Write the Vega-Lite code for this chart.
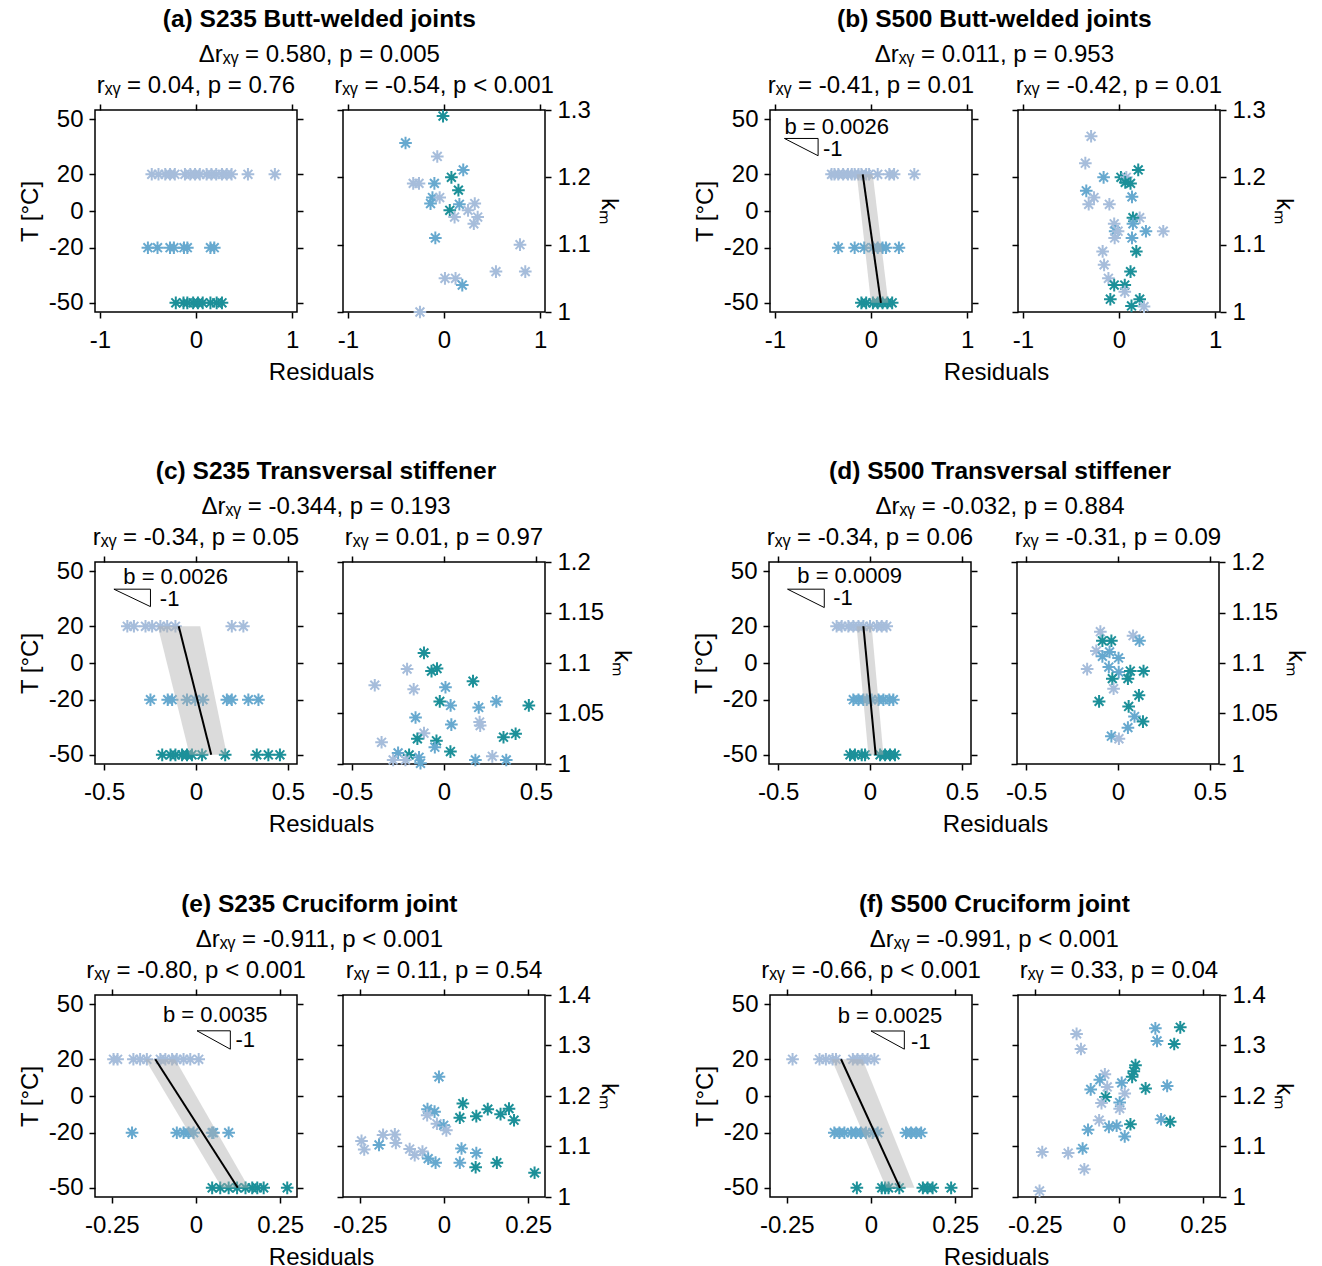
{
"$schema": "https://vega.github.io/schema/vega-lite/v6.json",
"background": "white",
"padding": {"left": 17, "top": 6, "right": 0, "bottom": 0},
"datasets": {
"aL": [{"r":-0.46,"T":20},{"r":-0.39,"T":20},{"r":-0.32,"T":20},{"r":-0.27,"T":20},{"r":-0.22,"T":20},{"r":-0.115,"T":20},{"r":-0.06,"T":20},{"r":-0.01,"T":20},{"r":0.04,"T":20},{"r":0.11,"T":20},{"r":0.16,"T":20},{"r":0.21,"T":20},{"r":0.27,"T":20},{"r":0.32,"T":20},{"r":0.37,"T":20},{"r":0.54,"T":20},{"r":0.82,"T":20},
{"r":-0.5,"T":-20},{"r":-0.4,"T":-20},{"r":-0.27,"T":-20},{"r":-0.23,"T":-20},{"r":-0.125,"T":-20},{"r":-0.09,"T":-20},{"r":0.15,"T":-20},{"r":0.19,"T":-20},
{"r":-0.21,"T":-50},{"r":-0.13,"T":-50},{"r":-0.09,"T":-50},{"r":-0.03,"T":-50},{"r":0.02,"T":-50},{"r":0.07,"T":-50},{"r":0.15,"T":-50},{"r":0.215,"T":-50},{"r":0.27,"T":-50}],
"aR": [{"r":-0.01,"km":1.291,"T":-50},{"r":-0.4,"km":1.251,"T":-20},{"r":-0.07,"km":1.231,"T":20},{"r":0.2,"km":1.211,"T":-20},{"r":0.077,"km":1.2,"T":-50},{"r":-0.32,"km":1.191,"T":20},{"r":-0.26,"km":1.191,"T":20},{"r":-0.1,"km":1.191,"T":-20},{"r":0.15,"km":1.181,"T":-50},{"r":-0.12,"km":1.17,"T":-20},{"r":-0.045,"km":1.17,"T":20},{"r":-0.14,"km":1.161,"T":-20},{"r":0.16,"km":1.16,"T":-20},{"r":0.32,"km":1.161,"T":20},{"r":0.25,"km":1.151,"T":20},{"r":0.06,"km":1.151,"T":-50},{"r":0.35,"km":1.141,"T":20},{"r":0.11,"km":1.141,"T":20},{"r":0.31,"km":1.131,"T":20},{"r":-0.09,"km":1.11,"T":-20},{"r":0.79,"km":1.1,"T":20},{"r":0.54,"km":1.06,"T":20},{"r":0.845,"km":1.06,"T":20},{"r":0.01,"km":1.05,"T":20},{"r":0.12,"km":1.05,"T":20},{"r":0.19,"km":1.04,"T":-20},{"r":-0.25,"km":1.0,"T":20}],
"bL": [{"r":-0.41,"T":20},{"r":-0.38,"T":20},{"r":-0.34,"T":20},{"r":-0.29,"T":20},{"r":-0.24,"T":20},{"r":-0.2,"T":20},{"r":-0.17,"T":20},{"r":-0.13,"T":20},{"r":-0.1,"T":20},{"r":-0.05,"T":20},{"r":-0.02,"T":20},{"r":0.07,"T":20},{"r":0.19,"T":20},{"r":0.24,"T":20},{"r":0.45,"T":20},
{"r":-0.34,"T":-20},{"r":-0.17,"T":-20},{"r":-0.07,"T":-20},{"r":0.02,"T":-20},{"r":0.07,"T":-20},{"r":0.12,"T":-20},{"r":0.155,"T":-20},{"r":0.29,"T":-20},
{"r":-0.1,"T":-50},{"r":-0.05,"T":-50},{"r":0.02,"T":-50},{"r":0.07,"T":-50},{"r":0.12,"T":-50},{"r":0.17,"T":-50},{"r":0.22,"T":-50}],
"fitB": [{"T":20,"r":-0.086,"lo":-0.148,"hi":0.018},{"T":-50,"r":0.103,"lo":0.0,"hi":0.18}],
"triB": [{"i":1,"r":-0.9,"T":39.5},{"i":2,"r":-0.55,"T":39.5},{"i":3,"r":-0.55,"T":30.1},{"i":4,"r":-0.9,"T":39.5}],
"annB": [{"label":"b = 0.0026","r":-0.9,"T":42.2},{"label":"-1","r":-0.5,"T":30.1}],
"bR": [{"r":-0.29,"km":1.261,"T":20},{"r":-0.35,"km":1.221,"T":20},{"r":0.2,"km":1.211,"T":-50},{"r":-0.16,"km":1.2,"T":-20},{"r":0.02,"km":1.2,"T":-50},{"r":0.076,"km":1.2,"T":20},{"r":0.065,"km":1.1925,"T":-50},{"r":0.12,"km":1.191,"T":-50},{"r":-0.34,"km":1.18,"T":-20},{"r":-0.26,"km":1.17,"T":20},{"r":0.135,"km":1.171,"T":-20},{"r":-0.315,"km":1.16,"T":20},{"r":-0.1,"km":1.16,"T":20},{"r":0.215,"km":1.14,"T":20},{"r":0.145,"km":1.14,"T":-50},{"r":-0.05,"km":1.131,"T":20},{"r":0.145,"km":1.131,"T":-20},{"r":-0.04,"km":1.12,"T":-20},{"r":-0.01,"km":1.12,"T":20},{"r":0.28,"km":1.12,"T":-20},{"r":0.46,"km":1.12,"T":20},{"r":-0.045,"km":1.11,"T":20},{"r":0.135,"km":1.11,"T":-20},{"r":0.18,"km":1.09,"T":-50},{"r":-0.17,"km":1.09,"T":20},{"r":-0.155,"km":1.07,"T":20},{"r":0.12,"km":1.06,"T":-50},{"r":-0.11,"km":1.05,"T":20},{"r":-0.05,"km":1.04,"T":-50},{"r":0.06,"km":1.04,"T":-50},{"r":0.06,"km":1.03,"T":20},{"r":-0.09,"km":1.019,"T":-50},{"r":0.215,"km":1.019,"T":-50},{"r":0.13,"km":1.009,"T":-50},{"r":0.26,"km":1.008,"T":20}],
"cL": [{"r":-0.374,"T":20},{"r":-0.338,"T":20},{"r":-0.275,"T":20},{"r":-0.239,"T":20},{"r":-0.194,"T":20},{"r":-0.157,"T":20},{"r":-0.112,"T":20},{"r":0.195,"T":20},{"r":0.258,"T":20},
{"r":-0.248,"T":-20},{"r":-0.154,"T":-20},{"r":-0.13,"T":-20},{"r":-0.049,"T":-20},{"r":-0.004,"T":-20},{"r":0.038,"T":-20},{"r":0.168,"T":-20},{"r":0.195,"T":-20},{"r":0.285,"T":-20},{"r":0.34,"T":-20},
{"r":-0.184,"T":-50},{"r":-0.139,"T":-50},{"r":-0.112,"T":-50},{"r":-0.076,"T":-50},{"r":-0.049,"T":-50},{"r":-0.022,"T":-50},{"r":0.033,"T":-50},{"r":0.159,"T":-50},{"r":0.331,"T":-50},{"r":0.394,"T":-50},{"r":0.457,"T":-50}],
"fitC": [{"T":20,"r":-0.094,"lo":-0.208,"hi":0.023},{"T":-50,"r":0.083,"lo":-0.035,"hi":0.168}],
"triC": [{"i":1,"r":-0.447,"T":40.2},{"i":2,"r":-0.248,"T":40.2},{"i":3,"r":-0.248,"T":30.7},{"i":4,"r":-0.447,"T":40.2}],
"annC": [{"label":"b = 0.0026","r":-0.396,"T":42.9},{"label":"-1","r":-0.197,"T":31}],
"cR": [{"r":-0.109,"km":1.11,"T":-50},{"r":-0.201,"km":1.094,"T":20},{"r":-0.068,"km":1.092,"T":-50},{"r":-0.038,"km":1.0945,"T":-50},{"r":-0.377,"km":1.078,"T":20},{"r":0.158,"km":1.082,"T":-50},{"r":-0.165,"km":1.074,"T":20},{"r":0.008,"km":1.076,"T":-20},{"r":-0.023,"km":1.062,"T":-50},{"r":0.036,"km":1.058,"T":-20},{"r":0.189,"km":1.056,"T":-20},{"r":0.285,"km":1.062,"T":-20},{"r":0.462,"km":1.058,"T":-50},{"r":-0.155,"km":1.046,"T":-20},{"r":0.194,"km":1.0415,"T":20},{"r":0.197,"km":1.038,"T":20},{"r":0.04,"km":1.039,"T":-20},{"r":-0.109,"km":1.0305,"T":20},{"r":-0.145,"km":1.025,"T":-50},{"r":-0.041,"km":1.023,"T":-50},{"r":0.324,"km":1.0265,"T":-50},{"r":0.39,"km":1.03,"T":-50},{"r":-0.34,"km":1.0215,"T":20},{"r":-0.05,"km":1.0166,"T":-20},{"r":0.035,"km":1.0123,"T":-50},{"r":-0.25,"km":1.011,"T":-20},{"r":-0.19,"km":1.009,"T":-50},{"r":-0.277,"km":1.004,"T":20},{"r":-0.21,"km":1.004,"T":20},{"r":-0.136,"km":1.0066,"T":-20},{"r":-0.128,"km":1.0007,"T":-20},{"r":0.171,"km":1.004,"T":-20},{"r":0.263,"km":1.0076,"T":20},{"r":0.339,"km":1.004,"T":-20}],
"dL": [{"r":-0.182,"T":20},{"r":-0.154,"T":20},{"r":-0.118,"T":20},{"r":-0.091,"T":20},{"r":-0.063,"T":20},{"r":-0.036,"T":20},{"r":0.0,"T":20},{"r":0.037,"T":20},{"r":0.064,"T":20},{"r":0.091,"T":20},
{"r":-0.091,"T":-20},{"r":-0.063,"T":-20},{"r":-0.036,"T":-20},{"r":-0.018,"T":-20},{"r":0.009,"T":-20},{"r":0.046,"T":-20},{"r":0.073,"T":-20},{"r":0.105,"T":-20},{"r":0.127,"T":-20},
{"r":-0.109,"T":-50},{"r":-0.082,"T":-50},{"r":-0.045,"T":-50},{"r":-0.027,"T":-50},{"r":0.055,"T":-50},{"r":0.082,"T":-50},{"r":0.109,"T":-50},{"r":0.136,"T":-50}],
"fitD": [{"T":20,"r":-0.036,"lo":-0.073,"hi":0.009},{"T":-50,"r":0.031,"lo":-0.009,"hi":0.073}],
"triD": [{"i":1,"r":-0.449,"T":40.2},{"i":2,"r":-0.249,"T":40.2},{"i":3,"r":-0.249,"T":30.2},{"i":4,"r":-0.449,"T":40.2}],
"annD": [{"label":"b = 0.0009","r":-0.396,"T":43.3},{"label":"-1","r":-0.2,"T":31.5}],
"dR": [{"r":-0.096,"km":1.131,"T":20},{"r":-0.085,"km":1.122,"T":-50},{"r":-0.036,"km":1.122,"T":-50},{"r":0.082,"km":1.127,"T":20},{"r":0.117,"km":1.122,"T":-20},{"r":-0.118,"km":1.112,"T":20},{"r":-0.085,"km":1.1066,"T":-20},{"r":-0.046,"km":1.111,"T":-20},{"r":0.003,"km":1.105,"T":-20},{"r":-0.168,"km":1.094,"T":20},{"r":-0.05,"km":1.096,"T":-20},{"r":0.004,"km":1.091,"T":-20},{"r":0.067,"km":1.092,"T":-50},{"r":0.139,"km":1.092,"T":-50},{"r":-0.031,"km":1.0845,"T":-50},{"r":0.054,"km":1.0845,"T":-50},{"r":-0.024,"km":1.0745,"T":20},{"r":0.114,"km":1.068,"T":-50},{"r":-0.103,"km":1.062,"T":-50},{"r":0.058,"km":1.057,"T":-50},{"r":0.09,"km":1.047,"T":-20},{"r":0.136,"km":1.042,"T":-50},{"r":0.054,"km":1.036,"T":-20},{"r":-0.036,"km":1.0275,"T":-20},{"r":0.005,"km":1.025,"T":20}],
"eL": [{"r":-0.245,"T":20},{"r":-0.233,"T":20},{"r":-0.186,"T":20},{"r":-0.166,"T":20},{"r":-0.146,"T":20},{"r":-0.106,"T":20},{"r":-0.091,"T":20},{"r":-0.071,"T":20},{"r":-0.057,"T":20},{"r":-0.037,"T":20},{"r":-0.017,"T":20},{"r":0.008,"T":20},
{"r":-0.19,"T":-20},{"r":-0.057,"T":-20},{"r":-0.037,"T":-20},{"r":-0.022,"T":-20},{"r":-0.007,"T":-20},{"r":0.048,"T":-20},{"r":0.052,"T":-20},{"r":0.097,"T":-20},
{"r":0.048,"T":-50},{"r":0.072,"T":-50},{"r":0.097,"T":-50},{"r":0.122,"T":-50},{"r":0.147,"T":-50},{"r":0.167,"T":-50},{"r":0.182,"T":-50},{"r":0.201,"T":-50},{"r":0.271,"T":-50}],
"fitE": [{"T":20,"r":-0.121,"lo":-0.151,"hi":-0.062},{"T":-50,"r":0.124,"lo":0.077,"hi":0.157}],
"triE": [{"i":1,"r":0.003,"T":35.5},{"i":2,"r":0.102,"T":35.5},{"i":3,"r":0.102,"T":25.5},{"i":4,"r":0.003,"T":35.5}],
"annE": [{"label":"b = 0.0035","r":-0.098,"T":40.4},{"label":"-1","r":0.117,"T":26.7}],
"eR": [{"r":-0.015,"km":1.238,"T":-20},{"r":0.056,"km":1.185,"T":-50},{"r":-0.049,"km":1.174,"T":-20},{"r":-0.028,"km":1.169,"T":-20},{"r":-0.05,"km":1.162,"T":20},{"r":0.13,"km":1.174,"T":-50},{"r":0.193,"km":1.175,"T":-50},{"r":0.168,"km":1.164,"T":-50},{"r":0.047,"km":1.157,"T":-50},{"r":0.096,"km":1.16,"T":-50},{"r":0.208,"km":1.152,"T":-50},{"r":-0.021,"km":1.145,"T":20},{"r":-0.001,"km":1.142,"T":-20},{"r":0.007,"km":1.132,"T":20},{"r":-0.245,"km":1.111,"T":20},{"r":-0.237,"km":1.094,"T":20},{"r":-0.181,"km":1.123,"T":20},{"r":-0.146,"km":1.124,"T":20},{"r":-0.143,"km":1.107,"T":20},{"r":-0.193,"km":1.103,"T":-20},{"r":-0.102,"km":1.095,"T":20},{"r":-0.087,"km":1.083,"T":20},{"r":-0.064,"km":1.09,"T":20},{"r":-0.047,"km":1.076,"T":-20},{"r":-0.025,"km":1.068,"T":-20},{"r":0.052,"km":1.096,"T":-20},{"r":0.047,"km":1.068,"T":-20},{"r":0.096,"km":1.087,"T":-20},{"r":0.094,"km":1.059,"T":-50},{"r":0.157,"km":1.068,"T":-50},{"r":0.269,"km":1.048,"T":-50}],
"fL": [{"r":-0.233,"T":20},{"r":-0.153,"T":20},{"r":-0.134,"T":20},{"r":-0.114,"T":20},{"r":-0.104,"T":20},{"r":-0.054,"T":20},{"r":-0.04,"T":20},{"r":-0.025,"T":20},{"r":-0.01,"T":20},{"r":0.01,"T":20},
{"r":-0.109,"T":-20},{"r":-0.094,"T":-20},{"r":-0.079,"T":-20},{"r":-0.059,"T":-20},{"r":-0.045,"T":-20},{"r":-0.03,"T":-20},{"r":-0.015,"T":-20},{"r":0.005,"T":-20},{"r":0.02,"T":-20},{"r":0.104,"T":-20},{"r":0.119,"T":-20},{"r":0.134,"T":-20},{"r":0.149,"T":-20},
{"r":-0.042,"T":-50},{"r":0.032,"T":-50},{"r":0.042,"T":-50},{"r":0.052,"T":-50},{"r":0.084,"T":-50},{"r":0.154,"T":-50},{"r":0.168,"T":-50},{"r":0.183,"T":-50},{"r":0.238,"T":-50}],
"fitF": [{"T":20,"r":-0.089,"lo":-0.117,"hi":-0.025},{"T":-50,"r":0.086,"lo":0.045,"hi":0.129}],
"triF": [{"i":1,"r":0.0,"T":35.4},{"i":2,"r":0.099,"T":35.4},{"i":3,"r":0.099,"T":25.5},{"i":4,"r":0.0,"T":35.4}],
"annF": [{"label":"b = 0.0025","r":-0.099,"T":40},{"label":"-1","r":0.119,"T":25.5}],
"fR": [{"r":0.182,"km":1.336,"T":-50},{"r":0.108,"km":1.334,"T":-20},{"r":-0.126,"km":1.323,"T":20},{"r":0.113,"km":1.309,"T":-20},{"r":0.164,"km":1.303,"T":-50},{"r":-0.113,"km":1.293,"T":20},{"r":0.049,"km":1.261,"T":-50},{"r":0.044,"km":1.249,"T":-50},{"r":0.039,"km":1.238,"T":-50},{"r":-0.042,"km":1.243,"T":20},{"r":-0.057,"km":1.232,"T":-20},{"r":0.008,"km":1.226,"T":-20},{"r":-0.035,"km":1.218,"T":20},{"r":-0.084,"km":1.213,"T":-20},{"r":0.079,"km":1.215,"T":-50},{"r":0.143,"km":1.22,"T":-20},{"r":0.017,"km":1.205,"T":20},{"r":-0.04,"km":1.198,"T":-50},{"r":-0.052,"km":1.186,"T":20},{"r":0.002,"km":1.187,"T":-20},{"r":0.002,"km":1.175,"T":20},{"r":-0.059,"km":1.152,"T":20},{"r":0.125,"km":1.154,"T":-20},{"r":0.152,"km":1.149,"T":-50},{"r":0.034,"km":1.144,"T":-50},{"r":-0.03,"km":1.139,"T":-20},{"r":-0.007,"km":1.141,"T":-20},{"r":-0.092,"km":1.133,"T":-20},{"r":0.017,"km":1.12,"T":-20},{"r":-0.108,"km":1.096,"T":-20},{"r":-0.228,"km":1.089,"T":20},{"r":-0.151,"km":1.087,"T":20},{"r":-0.103,"km":1.055,"T":20},{"r":-0.236,"km":1.012,"T":20}]
},
"config": {
"font": "Liberation Sans",
"view": {"stroke": "black", "strokeWidth": 1.5},
"axis": {"domain": false, "grid": false, "ticks": true, "tickColor": "black", "tickWidth": 1.5, "tickSize": 6, "labelFont": "Liberation Sans", "labelFontSize": 24, "labelColor": "black", "labelFlush": false, "labelOverlap": false, "titleFont": "Liberation Sans", "titleFontSize": 24, "titleFontWeight": "normal", "titleColor": "black"},
"axisX": {"labelPadding": 10, "titlePadding": 8},
"axisY": {"labelPadding": 6, "titlePadding": 6},
"title": {"font": "Liberation Sans", "fontSize": 24, "fontWeight": "normal", "color": "black", "subtitleFont": "Liberation Sans", "subtitleFontSize": 24, "subtitleColor": "black", "offset": 5},
"text": {"font": "Liberation Sans", "color": "black"},
"point": {"shape": "M-1,0L1,0M0,-1L0,1M-0.7,-0.7L0.7,0.7M-0.7,0.7L0.7,-0.7", "filled": false, "size": 160, "strokeWidth": 2, "opacity": 1}
},
"spacing": 73,
"vconcat": [
{"spacing": 70, "hconcat": [
 {"title": {"text": "(a) S235 Butt-welded joints", "subtitle": "Δrₓᵧ = 0.580, p = 0.005", "anchor": "middle", "fontWeight": "bold", "fontSize": 24.5, "subtitlePadding": 11, "offset": 5},
  "bounds": "flush", "spacing": 46,
  "hconcat": [
  {"title": {"text": "rₓᵧ = 0.04, p = 0.76", "frame": "group"}, "width": 202, "height": 202,
   "layer": [
    {"data": {"name": "aL"}, "mark": {"type": "point"}, "encoding": {
      "x": {"field": "r", "type": "quantitative", "scale": {"domain": [-1.05, 1.05], "nice": false, "zero": false}, "axis": {"orient": "bottom", "values": [-1, 0, 1], "title": "Residuals", "titleX": 226, "labelExpr": "datum.value < 0 ? '-' + format(-datum.value, '~g') : format(datum.value, '~g')"}},
      "y": {"field": "T", "type": "quantitative", "scale": {"domain": [-55, 55], "nice": false, "zero": false}, "axis": {"orient": "left", "values": [-50, -20, 0, 20, 50], "title": "T [°C]", "labelExpr": "datum.value < 0 ? '-' + format(-datum.value, '~g') : format(datum.value, '~g')"}},
      "color": {"field": "T", "type": "nominal", "scale": {"domain": [20, -20, -50], "range": ["#a6bddb", "#67a9cf", "#1c9099"]}, "legend": null}}},
    {"data": {"name": "aL"}, "mark": {"type": "point", "opacity": 0}, "encoding": {
      "x": {"field": "r", "type": "quantitative", "axis": {"orient": "top", "values": [-1, 0, 1], "labels": false, "title": null}},
      "y": {"field": "T", "type": "quantitative", "axis": {"orient": "right", "values": [-50, -20, 0, 20, 50], "labels": false, "title": null}}}}
   ],
   "resolve": {"axis": {"x": "independent", "y": "independent"}}},
  {"title": {"text": "rₓᵧ = -0.54, p < 0.001", "offset": 0, "frame": "group"}, "width": 202, "height": 202,
   "layer": [
    {"data": {"name": "aR"}, "mark": {"type": "point"}, "encoding": {
      "x": {"field": "r", "type": "quantitative", "scale": {"domain": [-1.05, 1.05], "nice": false, "zero": false}, "axis": {"orient": "bottom", "values": [-1, 0, 1], "title": null, "labelExpr": "datum.value < 0 ? '-' + format(-datum.value, '~g') : format(datum.value, '~g')"}},
      "y": {"field": "km", "type": "quantitative", "scale": {"domain": [1, 1.3], "nice": false, "zero": false}, "axis": {"orient": "right", "values": [1, 1.1, 1.2, 1.3], "title": "kₘ", "labelExpr": "format(datum.value, '~g')"}},
      "color": {"field": "T", "type": "nominal", "scale": {"domain": [20, -20, -50], "range": ["#a6bddb", "#67a9cf", "#1c9099"]}, "legend": null}}},
    {"data": {"name": "aR"}, "mark": {"type": "point", "opacity": 0}, "encoding": {
      "x": {"field": "r", "type": "quantitative", "axis": {"orient": "top", "values": [-1, 0, 1], "labels": false, "title": null}},
      "y": {"field": "km", "type": "quantitative", "axis": {"orient": "left", "values": [1, 1.1, 1.2, 1.3], "labels": false, "title": null}}}}
   ],
   "resolve": {"axis": {"x": "independent", "y": "independent"}}}
 ]},
 {"title": {"text": "(b) S500 Butt-welded joints", "subtitle": "Δrₓᵧ = 0.011, p = 0.953", "anchor": "middle", "fontWeight": "bold", "fontSize": 24.5, "subtitlePadding": 11, "offset": 5},
  "bounds": "flush", "spacing": 46,
  "hconcat": [
  {"title": {"text": "rₓᵧ = -0.41, p = 0.01", "frame": "group"}, "width": 202, "height": 202,
   "layer": [
    {"data": {"name": "bL"}, "mark": {"type": "point"}, "encoding": {
      "x": {"field": "r", "type": "quantitative", "scale": {"domain": [-1.05, 1.05], "nice": false, "zero": false}, "axis": {"orient": "bottom", "values": [-1, 0, 1], "title": "Residuals", "titleX": 226, "labelExpr": "datum.value < 0 ? '-' + format(-datum.value, '~g') : format(datum.value, '~g')"}},
      "y": {"field": "T", "type": "quantitative", "scale": {"domain": [-55, 55], "nice": false, "zero": false}, "axis": {"orient": "left", "values": [-50, -20, 0, 20, 50], "title": "T [°C]", "labelExpr": "datum.value < 0 ? '-' + format(-datum.value, '~g') : format(datum.value, '~g')"}},
      "color": {"field": "T", "type": "nominal", "scale": {"domain": [20, -20, -50], "range": ["#a6bddb", "#67a9cf", "#1c9099"]}, "legend": null}}},
    {"data": {"name": "fitB"}, "mark": {"type": "area", "orient": "horizontal", "color": "#b0b0b0", "opacity": 0.45}, "encoding": {
      "y": {"field": "T", "type": "quantitative", "axis": {"orient": "right", "values": [-50, -20, 0, 20, 50], "labels": false, "title": null}},
      "x": {"field": "lo", "type": "quantitative", "axis": {"orient": "top", "values": [-1, 0, 1], "labels": false, "title": null}},
      "x2": {"field": "hi"}}},
    {"data": {"name": "fitB"}, "mark": {"type": "line", "color": "black", "strokeWidth": 2}, "encoding": {"x": {"field": "r", "type": "quantitative", "axis": null}, "y": {"field": "T", "type": "quantitative", "axis": null}}},
    {"data": {"name": "triB"}, "mark": {"type": "line", "color": "black", "strokeWidth": 1}, "encoding": {"x": {"field": "r", "type": "quantitative", "axis": null}, "y": {"field": "T", "type": "quantitative", "axis": null}, "order": {"field": "i", "type": "quantitative"}}},
    {"data": {"name": "annB"}, "mark": {"type": "text", "align": "left", "baseline": "alphabetic", "fontSize": 22}, "encoding": {"x": {"field": "r", "type": "quantitative", "axis": null}, "y": {"field": "T", "type": "quantitative", "axis": null}, "text": {"field": "label", "type": "nominal"}}}
   ],
   "resolve": {"axis": {"x": "independent", "y": "independent"}}},
  {"title": {"text": "rₓᵧ = -0.42, p = 0.01", "offset": 0, "frame": "group"}, "width": 202, "height": 202,
   "layer": [
    {"data": {"name": "bR"}, "mark": {"type": "point"}, "encoding": {
      "x": {"field": "r", "type": "quantitative", "scale": {"domain": [-1.05, 1.05], "nice": false, "zero": false}, "axis": {"orient": "bottom", "values": [-1, 0, 1], "title": null, "labelExpr": "datum.value < 0 ? '-' + format(-datum.value, '~g') : format(datum.value, '~g')"}},
      "y": {"field": "km", "type": "quantitative", "scale": {"domain": [1, 1.3], "nice": false, "zero": false}, "axis": {"orient": "right", "values": [1, 1.1, 1.2, 1.3], "title": "kₘ", "labelExpr": "format(datum.value, '~g')"}},
      "color": {"field": "T", "type": "nominal", "scale": {"domain": [20, -20, -50], "range": ["#a6bddb", "#67a9cf", "#1c9099"]}, "legend": null}}},
    {"data": {"name": "bR"}, "mark": {"type": "point", "opacity": 0}, "encoding": {
      "x": {"field": "r", "type": "quantitative", "axis": {"orient": "top", "values": [-1, 0, 1], "labels": false, "title": null}},
      "y": {"field": "km", "type": "quantitative", "axis": {"orient": "left", "values": [1, 1.1, 1.2, 1.3], "labels": false, "title": null}}}}
   ],
   "resolve": {"axis": {"x": "independent", "y": "independent"}}}
 ]}
]},
{"spacing": 54, "vconcat": [
{"spacing": 56, "hconcat": [
 {"title": {"text": "(c) S235 Transversal stiffener", "subtitle": "Δrₓᵧ = -0.344, p = 0.193", "anchor": "middle", "fontWeight": "bold", "fontSize": 24.5, "subtitlePadding": 11, "offset": 5},
  "bounds": "flush", "spacing": 46,
  "hconcat": [
  {"title": {"text": "rₓᵧ = -0.34, p = 0.05", "frame": "group"}, "width": 202, "height": 202,
   "layer": [
    {"data": {"name": "cL"}, "mark": {"type": "point"}, "encoding": {
      "x": {"field": "r", "type": "quantitative", "scale": {"domain": [-0.55, 0.55], "nice": false, "zero": false}, "axis": {"orient": "bottom", "values": [-0.5, 0, 0.5], "title": "Residuals", "titleX": 226, "labelExpr": "datum.value < 0 ? '-' + format(-datum.value, '~g') : format(datum.value, '~g')"}},
      "y": {"field": "T", "type": "quantitative", "scale": {"domain": [-55, 55], "nice": false, "zero": false}, "axis": {"orient": "left", "values": [-50, -20, 0, 20, 50], "title": "T [°C]", "labelExpr": "datum.value < 0 ? '-' + format(-datum.value, '~g') : format(datum.value, '~g')"}},
      "color": {"field": "T", "type": "nominal", "scale": {"domain": [20, -20, -50], "range": ["#a6bddb", "#67a9cf", "#1c9099"]}, "legend": null}}},
    {"data": {"name": "fitC"}, "mark": {"type": "area", "orient": "horizontal", "color": "#b0b0b0", "opacity": 0.45}, "encoding": {
      "y": {"field": "T", "type": "quantitative", "axis": {"orient": "right", "values": [-50, -20, 0, 20, 50], "labels": false, "title": null}},
      "x": {"field": "lo", "type": "quantitative", "axis": {"orient": "top", "values": [-0.5, 0, 0.5], "labels": false, "title": null}},
      "x2": {"field": "hi"}}},
    {"data": {"name": "fitC"}, "mark": {"type": "line", "color": "black", "strokeWidth": 2}, "encoding": {"x": {"field": "r", "type": "quantitative", "axis": null}, "y": {"field": "T", "type": "quantitative", "axis": null}}},
    {"data": {"name": "triC"}, "mark": {"type": "line", "color": "black", "strokeWidth": 1}, "encoding": {"x": {"field": "r", "type": "quantitative", "axis": null}, "y": {"field": "T", "type": "quantitative", "axis": null}, "order": {"field": "i", "type": "quantitative"}}},
    {"data": {"name": "annC"}, "mark": {"type": "text", "align": "left", "baseline": "alphabetic", "fontSize": 22}, "encoding": {"x": {"field": "r", "type": "quantitative", "axis": null}, "y": {"field": "T", "type": "quantitative", "axis": null}, "text": {"field": "label", "type": "nominal"}}}
   ],
   "resolve": {"axis": {"x": "independent", "y": "independent"}}},
  {"title": {"text": "rₓᵧ = 0.01, p = 0.97", "offset": 0, "frame": "group"}, "width": 202, "height": 202,
   "layer": [
    {"data": {"name": "cR"}, "mark": {"type": "point"}, "encoding": {
      "x": {"field": "r", "type": "quantitative", "scale": {"domain": [-0.55, 0.55], "nice": false, "zero": false}, "axis": {"orient": "bottom", "values": [-0.5, 0, 0.5], "title": null, "labelExpr": "datum.value < 0 ? '-' + format(-datum.value, '~g') : format(datum.value, '~g')"}},
      "y": {"field": "km", "type": "quantitative", "scale": {"domain": [1, 1.2], "nice": false, "zero": false}, "axis": {"orient": "right", "values": [1, 1.05, 1.1, 1.15, 1.2], "title": "kₘ", "labelExpr": "format(datum.value, '~g')"}},
      "color": {"field": "T", "type": "nominal", "scale": {"domain": [20, -20, -50], "range": ["#a6bddb", "#67a9cf", "#1c9099"]}, "legend": null}}},
    {"data": {"name": "cR"}, "mark": {"type": "point", "opacity": 0}, "encoding": {
      "x": {"field": "r", "type": "quantitative", "axis": {"orient": "top", "values": [-0.5, 0, 0.5], "labels": false, "title": null}},
      "y": {"field": "km", "type": "quantitative", "axis": {"orient": "left", "values": [1, 1.05, 1.1, 1.15, 1.2], "labels": false, "title": null}}}}
   ],
   "resolve": {"axis": {"x": "independent", "y": "independent"}}}
 ]},
 {"title": {"text": "(d) S500 Transversal stiffener", "subtitle": "Δrₓᵧ = -0.032, p = 0.884", "anchor": "middle", "fontWeight": "bold", "fontSize": 24.5, "subtitlePadding": 11, "offset": 5},
  "bounds": "flush", "spacing": 46,
  "hconcat": [
  {"title": {"text": "rₓᵧ = -0.34, p = 0.06", "frame": "group"}, "width": 202, "height": 202,
   "layer": [
    {"data": {"name": "dL"}, "mark": {"type": "point"}, "encoding": {
      "x": {"field": "r", "type": "quantitative", "scale": {"domain": [-0.55, 0.55], "nice": false, "zero": false}, "axis": {"orient": "bottom", "values": [-0.5, 0, 0.5], "title": "Residuals", "titleX": 226, "labelExpr": "datum.value < 0 ? '-' + format(-datum.value, '~g') : format(datum.value, '~g')"}},
      "y": {"field": "T", "type": "quantitative", "scale": {"domain": [-55, 55], "nice": false, "zero": false}, "axis": {"orient": "left", "values": [-50, -20, 0, 20, 50], "title": "T [°C]", "labelExpr": "datum.value < 0 ? '-' + format(-datum.value, '~g') : format(datum.value, '~g')"}},
      "color": {"field": "T", "type": "nominal", "scale": {"domain": [20, -20, -50], "range": ["#a6bddb", "#67a9cf", "#1c9099"]}, "legend": null}}},
    {"data": {"name": "fitD"}, "mark": {"type": "area", "orient": "horizontal", "color": "#b0b0b0", "opacity": 0.45}, "encoding": {
      "y": {"field": "T", "type": "quantitative", "axis": {"orient": "right", "values": [-50, -20, 0, 20, 50], "labels": false, "title": null}},
      "x": {"field": "lo", "type": "quantitative", "axis": {"orient": "top", "values": [-0.5, 0, 0.5], "labels": false, "title": null}},
      "x2": {"field": "hi"}}},
    {"data": {"name": "fitD"}, "mark": {"type": "line", "color": "black", "strokeWidth": 2}, "encoding": {"x": {"field": "r", "type": "quantitative", "axis": null}, "y": {"field": "T", "type": "quantitative", "axis": null}}},
    {"data": {"name": "triD"}, "mark": {"type": "line", "color": "black", "strokeWidth": 1}, "encoding": {"x": {"field": "r", "type": "quantitative", "axis": null}, "y": {"field": "T", "type": "quantitative", "axis": null}, "order": {"field": "i", "type": "quantitative"}}},
    {"data": {"name": "annD"}, "mark": {"type": "text", "align": "left", "baseline": "alphabetic", "fontSize": 22}, "encoding": {"x": {"field": "r", "type": "quantitative", "axis": null}, "y": {"field": "T", "type": "quantitative", "axis": null}, "text": {"field": "label", "type": "nominal"}}}
   ],
   "resolve": {"axis": {"x": "independent", "y": "independent"}}},
  {"title": {"text": "rₓᵧ = -0.31, p = 0.09", "offset": 0, "frame": "group"}, "width": 202, "height": 202,
   "layer": [
    {"data": {"name": "dR"}, "mark": {"type": "point"}, "encoding": {
      "x": {"field": "r", "type": "quantitative", "scale": {"domain": [-0.55, 0.55], "nice": false, "zero": false}, "axis": {"orient": "bottom", "values": [-0.5, 0, 0.5], "title": null, "labelExpr": "datum.value < 0 ? '-' + format(-datum.value, '~g') : format(datum.value, '~g')"}},
      "y": {"field": "km", "type": "quantitative", "scale": {"domain": [1, 1.2], "nice": false, "zero": false}, "axis": {"orient": "right", "values": [1, 1.05, 1.1, 1.15, 1.2], "title": "kₘ", "labelExpr": "format(datum.value, '~g')"}},
      "color": {"field": "T", "type": "nominal", "scale": {"domain": [20, -20, -50], "range": ["#a6bddb", "#67a9cf", "#1c9099"]}, "legend": null}}},
    {"data": {"name": "dR"}, "mark": {"type": "point", "opacity": 0}, "encoding": {
      "x": {"field": "r", "type": "quantitative", "axis": {"orient": "top", "values": [-0.5, 0, 0.5], "labels": false, "title": null}},
      "y": {"field": "km", "type": "quantitative", "axis": {"orient": "left", "values": [1, 1.05, 1.1, 1.15, 1.2], "labels": false, "title": null}}}}
   ],
   "resolve": {"axis": {"x": "independent", "y": "independent"}}}
 ]}
]},
{"spacing": 70, "hconcat": [
 {"title": {"text": "(e) S235 Cruciform joint", "subtitle": "Δrₓᵧ = -0.911, p < 0.001", "anchor": "middle", "fontWeight": "bold", "fontSize": 24.5, "subtitlePadding": 11, "offset": 5},
  "bounds": "flush", "spacing": 46,
  "hconcat": [
  {"title": {"text": "rₓᵧ = -0.80, p < 0.001", "frame": "group"}, "width": 202, "height": 202,
   "layer": [
    {"data": {"name": "eL"}, "mark": {"type": "point"}, "encoding": {
      "x": {"field": "r", "type": "quantitative", "scale": {"domain": [-0.3, 0.3], "nice": false, "zero": false}, "axis": {"orient": "bottom", "values": [-0.25, 0, 0.25], "title": "Residuals", "titleX": 226, "labelExpr": "datum.value < 0 ? '-' + format(-datum.value, '~g') : format(datum.value, '~g')"}},
      "y": {"field": "T", "type": "quantitative", "scale": {"domain": [-55, 55], "nice": false, "zero": false}, "axis": {"orient": "left", "values": [-50, -20, 0, 20, 50], "title": "T [°C]", "labelExpr": "datum.value < 0 ? '-' + format(-datum.value, '~g') : format(datum.value, '~g')"}},
      "color": {"field": "T", "type": "nominal", "scale": {"domain": [20, -20, -50], "range": ["#a6bddb", "#67a9cf", "#1c9099"]}, "legend": null}}},
    {"data": {"name": "fitE"}, "mark": {"type": "area", "orient": "horizontal", "color": "#b0b0b0", "opacity": 0.45}, "encoding": {
      "y": {"field": "T", "type": "quantitative", "axis": {"orient": "right", "values": [-50, -20, 0, 20, 50], "labels": false, "title": null}},
      "x": {"field": "lo", "type": "quantitative", "axis": {"orient": "top", "values": [-0.25, 0, 0.25], "labels": false, "title": null}},
      "x2": {"field": "hi"}}},
    {"data": {"name": "fitE"}, "mark": {"type": "line", "color": "black", "strokeWidth": 2}, "encoding": {"x": {"field": "r", "type": "quantitative", "axis": null}, "y": {"field": "T", "type": "quantitative", "axis": null}}},
    {"data": {"name": "triE"}, "mark": {"type": "line", "color": "black", "strokeWidth": 1}, "encoding": {"x": {"field": "r", "type": "quantitative", "axis": null}, "y": {"field": "T", "type": "quantitative", "axis": null}, "order": {"field": "i", "type": "quantitative"}}},
    {"data": {"name": "annE"}, "mark": {"type": "text", "align": "left", "baseline": "alphabetic", "fontSize": 22}, "encoding": {"x": {"field": "r", "type": "quantitative", "axis": null}, "y": {"field": "T", "type": "quantitative", "axis": null}, "text": {"field": "label", "type": "nominal"}}}
   ],
   "resolve": {"axis": {"x": "independent", "y": "independent"}}},
  {"title": {"text": "rₓᵧ = 0.11, p = 0.54", "offset": 0, "frame": "group"}, "width": 202, "height": 202,
   "layer": [
    {"data": {"name": "eR"}, "mark": {"type": "point"}, "encoding": {
      "x": {"field": "r", "type": "quantitative", "scale": {"domain": [-0.3, 0.3], "nice": false, "zero": false}, "axis": {"orient": "bottom", "values": [-0.25, 0, 0.25], "title": null, "labelExpr": "datum.value < 0 ? '-' + format(-datum.value, '~g') : format(datum.value, '~g')"}},
      "y": {"field": "km", "type": "quantitative", "scale": {"domain": [1, 1.4], "nice": false, "zero": false}, "axis": {"orient": "right", "values": [1, 1.1, 1.2, 1.3, 1.4], "title": "kₘ", "labelExpr": "format(datum.value, '~g')"}},
      "color": {"field": "T", "type": "nominal", "scale": {"domain": [20, -20, -50], "range": ["#a6bddb", "#67a9cf", "#1c9099"]}, "legend": null}}},
    {"data": {"name": "eR"}, "mark": {"type": "point", "opacity": 0}, "encoding": {
      "x": {"field": "r", "type": "quantitative", "axis": {"orient": "top", "values": [-0.25, 0, 0.25], "labels": false, "title": null}},
      "y": {"field": "km", "type": "quantitative", "axis": {"orient": "left", "values": [1, 1.1, 1.2, 1.3, 1.4], "labels": false, "title": null}}}}
   ],
   "resolve": {"axis": {"x": "independent", "y": "independent"}}}
 ]},
 {"title": {"text": "(f) S500 Cruciform joint", "subtitle": "Δrₓᵧ = -0.991, p < 0.001", "anchor": "middle", "fontWeight": "bold", "fontSize": 24.5, "subtitlePadding": 11, "offset": 5},
  "bounds": "flush", "spacing": 46,
  "hconcat": [
  {"title": {"text": "rₓᵧ = -0.66, p < 0.001", "frame": "group"}, "width": 202, "height": 202,
   "layer": [
    {"data": {"name": "fL"}, "mark": {"type": "point"}, "encoding": {
      "x": {"field": "r", "type": "quantitative", "scale": {"domain": [-0.3, 0.3], "nice": false, "zero": false}, "axis": {"orient": "bottom", "values": [-0.25, 0, 0.25], "title": "Residuals", "titleX": 226, "labelExpr": "datum.value < 0 ? '-' + format(-datum.value, '~g') : format(datum.value, '~g')"}},
      "y": {"field": "T", "type": "quantitative", "scale": {"domain": [-55, 55], "nice": false, "zero": false}, "axis": {"orient": "left", "values": [-50, -20, 0, 20, 50], "title": "T [°C]", "labelExpr": "datum.value < 0 ? '-' + format(-datum.value, '~g') : format(datum.value, '~g')"}},
      "color": {"field": "T", "type": "nominal", "scale": {"domain": [20, -20, -50], "range": ["#a6bddb", "#67a9cf", "#1c9099"]}, "legend": null}}},
    {"data": {"name": "fitF"}, "mark": {"type": "area", "orient": "horizontal", "color": "#b0b0b0", "opacity": 0.45}, "encoding": {
      "y": {"field": "T", "type": "quantitative", "axis": {"orient": "right", "values": [-50, -20, 0, 20, 50], "labels": false, "title": null}},
      "x": {"field": "lo", "type": "quantitative", "axis": {"orient": "top", "values": [-0.25, 0, 0.25], "labels": false, "title": null}},
      "x2": {"field": "hi"}}},
    {"data": {"name": "fitF"}, "mark": {"type": "line", "color": "black", "strokeWidth": 2}, "encoding": {"x": {"field": "r", "type": "quantitative", "axis": null}, "y": {"field": "T", "type": "quantitative", "axis": null}}},
    {"data": {"name": "triF"}, "mark": {"type": "line", "color": "black", "strokeWidth": 1}, "encoding": {"x": {"field": "r", "type": "quantitative", "axis": null}, "y": {"field": "T", "type": "quantitative", "axis": null}, "order": {"field": "i", "type": "quantitative"}}},
    {"data": {"name": "annF"}, "mark": {"type": "text", "align": "left", "baseline": "alphabetic", "fontSize": 22}, "encoding": {"x": {"field": "r", "type": "quantitative", "axis": null}, "y": {"field": "T", "type": "quantitative", "axis": null}, "text": {"field": "label", "type": "nominal"}}}
   ],
   "resolve": {"axis": {"x": "independent", "y": "independent"}}},
  {"title": {"text": "rₓᵧ = 0.33, p = 0.04", "offset": 0, "frame": "group"}, "width": 202, "height": 202,
   "layer": [
    {"data": {"name": "fR"}, "mark": {"type": "point"}, "encoding": {
      "x": {"field": "r", "type": "quantitative", "scale": {"domain": [-0.3, 0.3], "nice": false, "zero": false}, "axis": {"orient": "bottom", "values": [-0.25, 0, 0.25], "title": null, "labelExpr": "datum.value < 0 ? '-' + format(-datum.value, '~g') : format(datum.value, '~g')"}},
      "y": {"field": "km", "type": "quantitative", "scale": {"domain": [1, 1.4], "nice": false, "zero": false}, "axis": {"orient": "right", "values": [1, 1.1, 1.2, 1.3, 1.4], "title": "kₘ", "labelExpr": "format(datum.value, '~g')"}},
      "color": {"field": "T", "type": "nominal", "scale": {"domain": [20, -20, -50], "range": ["#a6bddb", "#67a9cf", "#1c9099"]}, "legend": null}}},
    {"data": {"name": "fR"}, "mark": {"type": "point", "opacity": 0}, "encoding": {
      "x": {"field": "r", "type": "quantitative", "axis": {"orient": "top", "values": [-0.25, 0, 0.25], "labels": false, "title": null}},
      "y": {"field": "km", "type": "quantitative", "axis": {"orient": "left", "values": [1, 1.1, 1.2, 1.3, 1.4], "labels": false, "title": null}}}}
   ],
   "resolve": {"axis": {"x": "independent", "y": "independent"}}}
 ]}
]}
]}
]
}
